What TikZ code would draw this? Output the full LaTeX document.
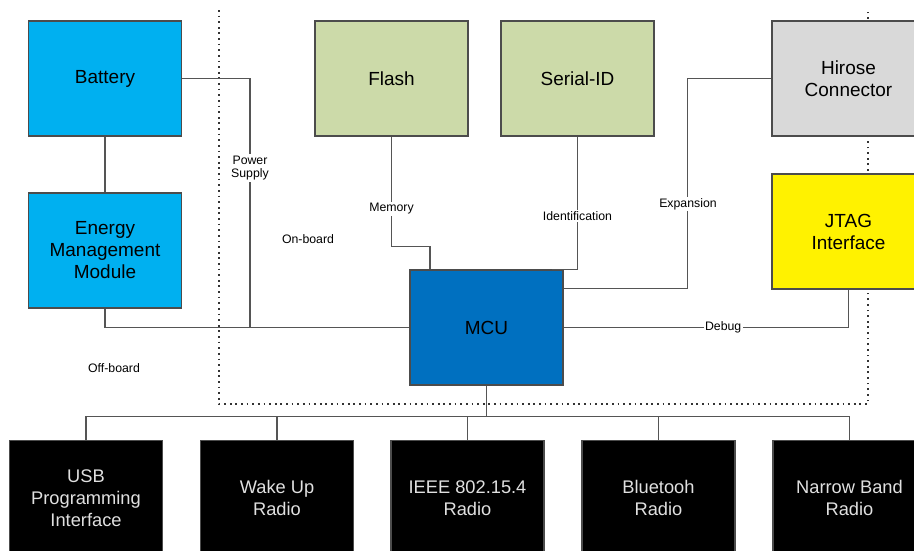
\documentclass[tikz,border=0pt]{standalone}
\usepackage{fontspec}
\setmainfont{Liberation Sans}
\usetikzlibrary{positioning}

\definecolor{azulbat}{HTML}{00B0F0}
\definecolor{azulmcu}{HTML}{0070C0}
\definecolor{verdemem}{HTML}{CCDAA9}
\definecolor{grisconn}{HTML}{D9D9D9}
\definecolor{lineagris}{HTML}{555555}

\begin{document}
\begin{tikzpicture}[
    x=0.02cm, y=-0.02cm,
    % Styles for the blocks
    bloque/.style={draw=black!70, line width=0.8pt, minimum width=3.06cm, minimum height=2.3cm,
        align=center, font=\fontsize{10.8}{12.5}\selectfont, inner sep=2pt},
    bloque_negro/.style={bloque, fill=black, text=white!88!black, font=\fontsize{10.4}{12.5}\selectfont},
    enlace/.style={draw=lineagris, line width=0.6pt},
    etiqueta/.style={font=\fontsize{7}{7.6}\selectfont, fill=white, inner sep=0.8pt, align=center},
    zona/.style={font=\fontsize{7}{7.6}\selectfont},
    frontera/.style={draw=black!80, line width=1pt, dash pattern=on 1pt off 2.2pt}
    ]

    \useasboundingbox (0,0) rectangle (914,551);

    % On-board area (dotted frame)
    \draw[frontera] (219,10) -- (219,404) -- (868,404) -- (868,10);
    \node[zona] (onboard) at (308,239) {On-board};
    \node[zona] (offboard) at (114,368) {Off-board};

    % OFF-BOARD POWER
    \node[bloque, fill=azulbat] (battery) at (105,78.5) {Battery};
    \node[bloque, fill=azulbat] (energy) at (105,250.5) {Energy\\ Management\\ Module};

    % ON-BOARD
    \node[bloque, fill=verdemem] (flash) at (391.5,78.5) {Flash};
    \node[bloque, fill=verdemem] (serialid) at (577.5,78.5) {Serial-ID};
    \node[bloque, fill=azulmcu] (mcu) at (486.5,327.5) {MCU};

    % Connectors on the right border
    \node[bloque, fill=grisconn] (hirose) at (848.5,78.5) {Hirose\\ Connector};
    \node[bloque, fill=yellow] (jtag) at (848.5,231.5) {JTAG\\ Interface};

    % Radios and programming (bottom row)
    \node[bloque_negro] (usb) at (86,498) {USB\\ Programming\\ Interface};
    \node[bloque_negro] (wakeup) at (277,498) {Wake Up\\ Radio};
    \node[bloque_negro] (ieee) at (467.5,498) {IEEE 802.15.4\\ Radio};
    \node[bloque_negro] (bluetooth) at (658.5,498) {Bluetooh\\ Radio};
    \node[bloque_negro] (narrowband) at (849.5,498) {Narrow Band\\ Radio};

    % Power supply
    \coordinate (powerjoint) at (250,327.5);
    \draw[enlace] (battery) -- (energy);
    \draw[enlace] (energy.south) |- (mcu.west);
    \draw[enlace] (battery.east) -| (powerjoint);
    \node[etiqueta] (powerlabel) at (250,168) {Power\\ Supply};

    % Memory and identification
    \draw[enlace] (flash.south) -- ++(0,110) -| ([xshift=-1.13cm]mcu.north);
    \node[etiqueta] (memlabel) at (391.5,209) {Memory};
    \draw[enlace] (serialid.south) -- (serialid.south |- mcu.north) -- ++(-26,0);
    \node[etiqueta] (idlabel) at (577.5,216) {Identification};

    % Expansion and debug
    \draw[enlace] (hirose.west) -- ++(-84,0) |- ([yshift=-0.38cm]mcu.north east);
    \node[etiqueta] (explabel) at (688,204) {Expansion};
    \draw[enlace] (mcu.east) -| node[etiqueta, pos=0.28] (debuglabel) {Debug} (jtag.south);

    % Bus to the bottom row
    \draw[enlace] (mcu.south) -- ++(0,31) coordinate (busjoint);
    \draw[enlace] (usb.north) -- (usb.north |- busjoint) -- (narrowband.north |- busjoint) -- (narrowband.north);
    \draw[enlace] (wakeup.north) -- (wakeup.north |- busjoint);
    \draw[enlace] (ieee.north) -- (ieee.north |- busjoint);
    \draw[enlace] (bluetooth.north) -- (bluetooth.north |- busjoint);

\end{tikzpicture}
\end{document}
